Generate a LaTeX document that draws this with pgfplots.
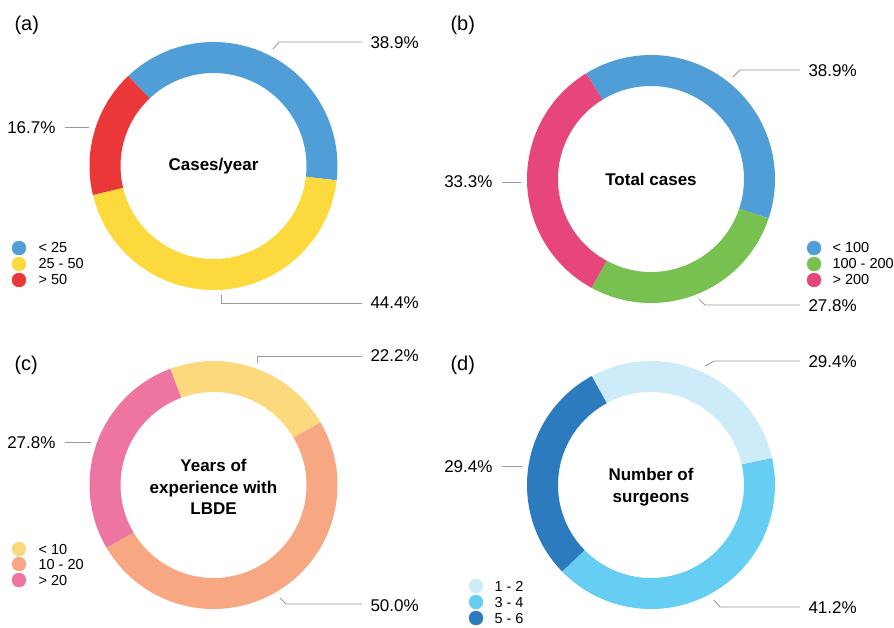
\documentclass[border=0pt]{standalone}
\usepackage{pgfplots}
\pgfplotsset{compat=1.18}
\usepackage{fontspec}
\setmainfont{Liberation Sans}

\definecolor{blueA}{HTML}{4F9ED8}
\definecolor{yellowA}{HTML}{FCDA3E}
\definecolor{redA}{HTML}{EA3737}
\definecolor{greenB}{HTML}{78C04F}
\definecolor{pinkB}{HTML}{E6467C}
\definecolor{yellowC}{HTML}{FDD97D}
\definecolor{salmonC}{HTML}{F7A883}
\definecolor{pinkC}{HTML}{EE74A1}
\definecolor{lightD}{HTML}{CDEBF8}
\definecolor{midD}{HTML}{66CEF2}
\definecolor{darkD}{HTML}{2B7BBE}
\definecolor{txt}{HTML}{2B2B2B}
\definecolor{lead}{HTML}{9A9A9A}

% one ring segment: centre x, centre y, start angle, share before, share, colour
\newcommand\seg[6]{%
  \pgfmathsetmacro\sa{#3-3.6*#4}%
  \pgfmathsetmacro\sb{#3-3.6*(#4+#5)}%
  \edef\doseg{\noexpand\addplot[draw=#6, line width=31pt, domain=\sb:\sa, samples=120]
    ({#1+108.5*cos(x)},{#2-108.5*sin(x)});}%
  \doseg}
\newcommand\pct{\fontsize{17}{20}\selectfont}
\newcommand\leg{\fontsize{14.5}{16}\selectfont}
\tikzset{ttl/.style={font=\fontsize{17}{21.5}\selectfont\bfseries, align=center}}

\begin{document}
\begin{tikzpicture}
\begin{axis}[
  x=1pt, y=1pt, scale only axis,
  xmin=0, xmax=894, ymin=0, ymax=627, y dir=reverse,
  hide axis, clip=false,
  every node/.append style={text=txt, inner sep=0pt},
]
% (a) cases per year: <25, 25-50, >50
\seg{213.5}{166}{133.4}{0}{38.9}{blueA}
\seg{213.5}{166}{133.4}{38.9}{44.4}{yellowA}
\seg{213.5}{166}{133.4}{83.3}{16.7}{redA}
% (b) total cases: <100, 100-200, >200
\seg{651}{179}{121.5}{0}{38.9}{blueA}
\seg{651}{179}{121.5}{38.9}{27.8}{greenB}
\seg{651}{179}{121.5}{66.7}{33.3}{pinkB}
% (c) years of experience: <10, 10-20, >20
\seg{213.5}{485}{110.4}{0}{22.2}{yellowC}
\seg{213.5}{485}{110.4}{22.2}{50.0}{salmonC}
\seg{213.5}{485}{110.4}{72.2}{27.8}{pinkC}
% (d) number of surgeons: 1-2, 3-4, 5-6
\seg{651}{485}{118.5}{0}{29.4}{lightD}
\seg{651}{485}{118.5}{29.4}{41.2}{midD}
\seg{651}{485}{118.5}{70.6}{29.4}{darkD}

% leader lines
\addplot[lead, line width=0.9pt] coordinates {(273,49) (279,42) (362,42)};
\addplot[lead, line width=0.9pt] coordinates {(65,127) (89,127)};
\addplot[lead, line width=0.9pt] coordinates {(221,295) (221,303) (362,303)};
\addplot[lead, line width=0.9pt] coordinates {(733,77) (740,70) (800,70)};
\addplot[lead, line width=0.9pt] coordinates {(502,182) (521,182)};
\addplot[lead, line width=0.9pt] coordinates {(699,299) (705,305) (800,305)};
\addplot[lead, line width=0.9pt] coordinates {(257,363) (257,356) (362,356)};
\addplot[lead, line width=0.9pt] coordinates {(65,442) (91,442)};
\addplot[lead, line width=0.9pt] coordinates {(280,598) (286,604) (362,604)};
\addplot[lead, line width=0.9pt] coordinates {(705,366) (714,361) (800,361)};
\addplot[lead, line width=0.9pt] coordinates {(502,466) (522,466)};
\addplot[lead, line width=0.9pt] coordinates {(714,600) (720,607) (800,607)};

% legend dots
\addplot[only marks, mark=*, mark size=7pt, blueA] coordinates {(19,248) (814,248)};
\addplot[only marks, mark=*, mark size=7pt, yellowA] coordinates {(19,264)};
\addplot[only marks, mark=*, mark size=7pt, redA] coordinates {(19,280)};
\addplot[only marks, mark=*, mark size=7pt, greenB] coordinates {(814,264)};
\addplot[only marks, mark=*, mark size=7pt, pinkB] coordinates {(814,280)};
\addplot[only marks, mark=*, mark size=7pt, yellowC] coordinates {(19,549)};
\addplot[only marks, mark=*, mark size=7pt, salmonC] coordinates {(19,564)};
\addplot[only marks, mark=*, mark size=7pt, pinkC] coordinates {(19,580)};
\addplot[only marks, mark=*, mark size=7pt, lightD] coordinates {(476,586)};
\addplot[only marks, mark=*, mark size=7pt, midD] coordinates {(476,602)};
\addplot[only marks, mark=*, mark size=7pt, darkD] coordinates {(476,618)};

% panel letters
\node[anchor=west] at (axis cs:11,25) {\fontsize{20}{22}\selectfont (a)};
\node[anchor=west] at (axis cs:447,25) {\fontsize{20}{22}\selectfont (b)};
\node[anchor=west] at (axis cs:11,365) {\fontsize{20}{22}\selectfont (c)};
\node[anchor=west] at (axis cs:447,365) {\fontsize{20}{22}\selectfont (d)};

% percentages
\node[anchor=west] at (axis cs:367,43) {\pct 38.9\%};
\node[anchor=east] at (axis cs:59,128) {\pct 16.7\%};
\node[anchor=west] at (axis cs:367,303) {\pct 44.4\%};
\node[anchor=west] at (axis cs:805,71) {\pct 38.9\%};
\node[anchor=east] at (axis cs:496,182) {\pct 33.3\%};
\node[anchor=west] at (axis cs:805,306) {\pct 27.8\%};
\node[anchor=west] at (axis cs:367,356) {\pct 22.2\%};
\node[anchor=east] at (axis cs:59,443) {\pct 27.8\%};
\node[anchor=west] at (axis cs:367,606) {\pct 50.0\%};
\node[anchor=west] at (axis cs:805,362) {\pct 29.4\%};
\node[anchor=east] at (axis cs:496,467) {\pct 29.4\%};
\node[anchor=west] at (axis cs:805,608) {\pct 41.2\%};

% centre titles
\node[ttl] at (axis cs:213.5,166) {Cases/year};
\node[ttl] at (axis cs:651,179) {Total cases};
\node[ttl] at (axis cs:213.5,487) {Years of\\experience with\\LBDE};
\node[ttl] at (axis cs:651,487) {Number of\\surgeons};

% legend texts
\node[anchor=west] at (axis cs:35,248) {\leg <\ 25};
\node[anchor=west] at (axis cs:35,264) {\leg 25 - 50};
\node[anchor=west] at (axis cs:35,280) {\leg >\ 50};
\node[anchor=west] at (axis cs:829,248) {\leg <\ 100};
\node[anchor=west] at (axis cs:829,264) {\leg 100 - 200};
\node[anchor=west] at (axis cs:829,280) {\leg >\ 200};
\node[anchor=west] at (axis cs:35,549) {\leg <\ 10};
\node[anchor=west] at (axis cs:35,564) {\leg 10 - 20};
\node[anchor=west] at (axis cs:35,580) {\leg >\ 20};
\node[anchor=west] at (axis cs:491,586) {\leg 1 - 2};
\node[anchor=west] at (axis cs:491,602) {\leg 3 - 4};
\node[anchor=west] at (axis cs:491,618) {\leg 5 - 6};
\end{axis}
\pgfresetboundingbox
\useasboundingbox (current axis.south west) rectangle (current axis.north east);
\end{tikzpicture}
\end{document}
